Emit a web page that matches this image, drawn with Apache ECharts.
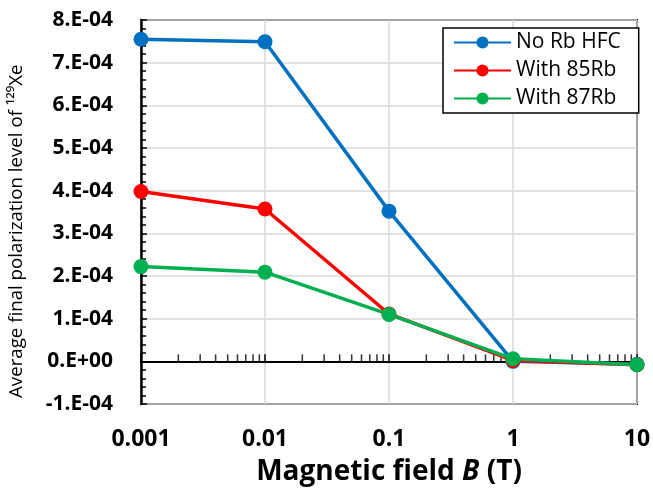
<!DOCTYPE html>
<html><head><meta charset="utf-8">
<script src="https://cdn.jsdelivr.net/npm/echarts@6/dist/echarts.min.js"></script>
<style>html,body{margin:0;padding:0;background:#fff}#c{width:653px;height:491px}</style>
</head><body><div id="c"></div>
<script>
const fields = [0.001, 0.01, 0.1, 1, 10];
const noRbHFC = [7.55e-4, 7.49e-4, 3.52e-4, 0.0, -0.07e-4];
const with85Rb = [3.98e-4, 3.57e-4, 1.11e-4, 0.02e-4, -0.08e-4];
const with87Rb = [2.22e-4, 2.09e-4, 1.10e-4, 0.06e-4, -0.08e-4];
const seriesNames = ['No Rb HFC', 'With 85Rb', 'With 87Rb'];
const colors = ['#0070C0', '#FF0000', '#00B050'];
const yTitle = 'Average final polarization level of ¹²⁹Xe';
const minorTickPositions = [0.002,0.003,0.004,0.005,0.006,0.007,0.008,0.009,
  0.02,0.03,0.04,0.05,0.06,0.07,0.08,0.09,
  0.2,0.3,0.4,0.5,0.6,0.7,0.8,0.9,
  2,3,4,5,6,7,8,9];

const FONT = 'Open Sans';
const chart = echarts.init(document.getElementById('c'), null, {renderer:'canvas'});
const mk = (name, vals, color) => ({
  name, type:'line', xAxisIndex:0, data: fields.map((x,i)=>[x, vals[i]]),
  symbol:'circle', symbolSize:15, lineStyle:{width:3.5, color}, itemStyle:{color}, z:3
});
chart.setOption({
  animation:false,
  textStyle:{fontFamily:FONT},
  grid:{left:141, right:16, top:20, bottom:87, containLabel:false, outerBoundsMode:'none',
    show:true, borderColor:'#000', borderWidth:2, backgroundColor:'transparent'},
  graphic:[{
    type:'text', x:17, y:398, rotation:Math.PI/2, silent:true,
    style:{text:yTitle, fontSize:18.7, fill:'#000', fontFamily:FONT, align:'left', verticalAlign:'middle'}
  }],
  legend:{
    data: seriesNames, orient:'vertical', left:443, top:28,
    itemWidth:57, itemHeight:15, itemGap:7,
    textStyle:{fontSize:21, color:'#000', fontFamily:FONT},
    padding:[4,18,4,10], borderColor:'#000', borderWidth:1.5, backgroundColor:'#fff'
  },
  xAxis:[{
    type:'log', logBase:10, min:0.001, max:10,
    axisLine:{onZero:true, lineStyle:{color:'#000', width:2}},
    axisTick:{show:true, inside:true, length:7, lineStyle:{color:'#000', width:1.5}},
    axisLabel:{show:false},
    splitLine:{show:true, lineStyle:{color:'#d9d9d9', width:1.5}}
  },{
    type:'log', logBase:10, min:0.001, max:10, position:'bottom',
    axisLine:{show:false, onZero:false}, axisTick:{show:false}, splitLine:{show:false},
    axisLabel:{fontSize:23, fontWeight:'bold', color:'#000', margin:24, fontFamily:FONT,
      formatter: v => String(v)},
    name:'{a|Magnetic field }{b|B}{a| (T)}', nameLocation:'middle', nameGap:54, nameMoveOverlap:false,
    nameTextStyle:{rich:{
      a:{fontSize:28, fontWeight:'bold', color:'#000', fontFamily:FONT},
      b:{fontSize:28, fontWeight:'bold', fontStyle:'italic', color:'#000', fontFamily:FONT}}}
  }],
  yAxis:{
    type:'value', min:-1e-4, max:8e-4, interval:1e-4,
    axisLine:{show:true, lineStyle:{color:'#000', width:2.5}},
    axisTick:{show:true, inside:true, length:6, lineStyle:{color:'#000', width:1.5}},
    minorTick:{show:true, splitNumber:5, length:5, lineStyle:{color:'#000', width:1.5}},
    splitLine:{show:true, lineStyle:{color:'#d9d9d9', width:1.5}},
    axisLabel:{fontSize:21, fontWeight:'bold', color:'#000', margin:28, fontFamily:FONT,
      formatter: v => { const n = Math.round(v*1e4); return n===0 ? '0.E+00' : n + '.E-04'; }}
  },
  series:[
    {type:'scatter', xAxisIndex:0, silent:true, symbol:'rect', symbolSize:[1.5,7], symbolOffset:[0,-3.5],
     itemStyle:{color:'#000'}, data: minorTickPositions.map(x=>[x,0]), z:2},
    mk(seriesNames[0], noRbHFC, colors[0]),
    mk(seriesNames[1], with85Rb, colors[1]),
    mk(seriesNames[2], with87Rb, colors[2])
  ]
});
</script></body></html>
